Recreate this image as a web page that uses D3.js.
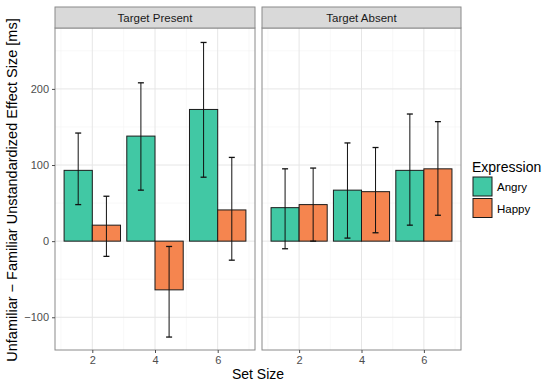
<!DOCTYPE html>
<html lang="en">
<head>
<meta charset="utf-8">
<title>Effect size by set size</title>
<script src="https://cdn.jsdelivr.net/npm/d3@7"></script>
<style>
  body { margin: 0; background: #fff; }
  text { font-family: "Liberation Sans", Arial, sans-serif; }
</style>
</head>
<body>
<script>
// data
var panels = ["Target Present", "Target Absent"];
var setSizes = [2, 4, 6];
var expressions = ["Angry", "Happy"];
var colors = ["#41c8a4", "#f5854f"];
// means and error bar limits per set size (2, 4, 6)
var meanPresentAngry = [93, 138, 173];
var meanPresentHappy = [21, -64, 41];
var meanAbsentAngry = [44, 67, 93];
var meanAbsentHappy = [48, 65, 95];
var lowPresentAngry = [48, 67, 84];
var highPresentAngry = [142, 208, 261];
var lowPresentHappy = [-20, -126, -25];
var highPresentHappy = [59, -7, 110];
var lowAbsentAngry = [-10, 4, 21];
var highAbsentAngry = [95, 129, 167];
var lowAbsentHappy = [0, 11, 34];
var highAbsentHappy = [96, 123, 157];
var yTicks = [-100, 0, 100, 200];
var yMinor = [-50, 50, 150, 250];
var xMinor = [1, 3, 5, 7];

var rows = [];
function add(panel, expr, means, lows, highs) {
  setSizes.forEach(function(s, i) {
    rows.push({panel: panel, expr: expr, size: s, mean: means[i], lo: lows[i], hi: highs[i]});
  });
}
add(panels[0], "Angry", meanPresentAngry, lowPresentAngry, highPresentAngry);
add(panels[0], "Happy", meanPresentHappy, lowPresentHappy, highPresentHappy);
add(panels[1], "Angry", meanAbsentAngry, lowAbsentAngry, highAbsentAngry);
add(panels[1], "Happy", meanAbsentHappy, lowAbsentHappy, highAbsentHappy);

var w = 550, h = 386;
var svg = d3.select("body").append("svg").attr("width", w).attr("height", h);

var panelTop = 28, panelBottom = 350, stripTop = 7;
var panelX = [[55, 255], [262, 461]];
var barW = 0.9; // in set-size units

var y = d3.scaleLinear().domain([-143, 280]).range([panelBottom, panelTop]);
var color = d3.scaleOrdinal().domain(expressions).range(colors);

panels.forEach(function(p, pi) {
  var x = d3.scaleLinear().domain([0.81, 7.19]).range(panelX[pi]);
  var g = svg.append("g");
  var x0 = panelX[pi][0], x1 = panelX[pi][1];

  g.append("rect").attr("x", x0).attr("y", panelTop).attr("width", x1 - x0)
    .attr("height", panelBottom - panelTop).attr("fill", "#fff");

  // grid
  g.selectAll(".ymin").data(yMinor).enter().append("line")
    .attr("x1", x0).attr("x2", x1).attr("y1", y).attr("y2", y)
    .attr("stroke", "#f3f3f3").attr("stroke-width", 0.6);
  g.selectAll(".xmin").data(xMinor).enter().append("line")
    .attr("x1", x).attr("x2", x).attr("y1", panelTop).attr("y2", panelBottom)
    .attr("stroke", "#f3f3f3").attr("stroke-width", 0.6);
  g.selectAll(".ymaj").data(yTicks).enter().append("line")
    .attr("x1", x0).attr("x2", x1).attr("y1", y).attr("y2", y)
    .attr("stroke", "#e6e6e6").attr("stroke-width", 1);
  g.selectAll(".xmaj").data(setSizes).enter().append("line")
    .attr("x1", x).attr("x2", x).attr("y1", panelTop).attr("y2", panelBottom)
    .attr("stroke", "#e6e6e6").attr("stroke-width", 1);

  var d = rows.filter(function(r) { return r.panel === p; });
  function left(r) { return r.expr === "Angry" ? x(r.size - barW) : x(r.size); }
  function mid(r) { return r.expr === "Angry" ? x(r.size - barW / 2) : x(r.size + barW / 2); }

  g.selectAll(".bar").data(d).enter().append("rect")
    .attr("x", left)
    .attr("y", function(r) { return y(Math.max(0, r.mean)); })
    .attr("width", x(barW) - x(0))
    .attr("height", function(r) { return Math.abs(y(r.mean) - y(0)); })
    .attr("fill", function(r) { return color(r.expr); })
    .attr("stroke", "#1a1a1a").attr("stroke-width", 1);

  var eb = g.selectAll(".err").data(d).enter().append("g");
  eb.append("line").attr("x1", mid).attr("x2", mid)
    .attr("y1", function(r) { return y(r.lo); }).attr("y2", function(r) { return y(r.hi); })
    .attr("stroke", "#111").attr("stroke-width", 1);
  ["lo", "hi"].forEach(function(k) {
    eb.append("line")
      .attr("x1", function(r) { return mid(r) - 3; }).attr("x2", function(r) { return mid(r) + 3; })
      .attr("y1", function(r) { return y(r[k]); }).attr("y2", function(r) { return y(r[k]); })
      .attr("stroke", "#111").attr("stroke-width", 1.3);
  });

  g.append("rect").attr("x", x0).attr("y", panelTop).attr("width", x1 - x0)
    .attr("height", panelBottom - panelTop).attr("fill", "none")
    .attr("stroke", "#8a8a8a").attr("stroke-width", 1);

  // strip
  g.append("rect").attr("x", x0).attr("y", stripTop).attr("width", x1 - x0)
    .attr("height", panelTop - stripTop).attr("fill", "#d9d9d9")
    .attr("stroke", "#8a8a8a").attr("stroke-width", 1);
  g.append("text").attr("x", (x0 + x1) / 2).attr("y", (stripTop + panelTop) / 2 + 4)
    .attr("text-anchor", "middle").attr("font-size", 11.5).attr("fill", "#1a1a1a").text(p);

  // x axis
  var xa = svg.append("g").attr("transform", "translate(0," + panelBottom + ")")
    .call(d3.axisBottom(x).tickValues(setSizes).tickFormat(d3.format("d")).tickSize(3).tickPadding(3));
  xa.select(".domain").remove();
  xa.selectAll("line").attr("stroke", "#4d4d4d");
  xa.selectAll("text").attr("font-size", 11).attr("fill", "#4d4d4d")
    .attr("font-family", "Liberation Sans, Arial, sans-serif");
});

// y axis
var ya = svg.append("g").attr("transform", "translate(" + panelX[0][0] + ",0)")
  .call(d3.axisLeft(y).tickValues(yTicks).tickSize(3).tickPadding(3));
ya.select(".domain").remove();
ya.selectAll("line").attr("stroke", "#4d4d4d");
ya.selectAll("text").attr("font-size", 11).attr("fill", "#4d4d4d")
  .attr("font-family", "Liberation Sans, Arial, sans-serif");

// axis titles
svg.append("text").attr("transform", "translate(17," + ((panelTop + panelBottom) / 2 + 1) + ") rotate(-90)")
  .attr("text-anchor", "middle").attr("font-size", 14.5).attr("fill", "#000")
  .text("Unfamiliar \u2212 Familiar Unstandardized Effect Size [ms]");
svg.append("text").attr("x", (panelX[0][0] + panelX[1][1]) / 2).attr("y", 379)
  .attr("text-anchor", "middle").attr("font-size", 14).attr("fill", "#000").text("Set Size");

// legend
var lg = svg.append("g").attr("transform", "translate(472,0)");
lg.append("text").attr("x", 0).attr("y", 172).attr("font-size", 14).attr("fill", "#000").text("Expression");
var li = lg.selectAll(".key").data(expressions).enter().append("g")
  .attr("transform", function(d, i) { return "translate(0," + (177 + i * 21.5) + ")"; });
li.append("rect").attr("x", 1).attr("y", 0).attr("width", 19).attr("height", 19)
  .attr("fill", function(d) { return color(d); }).attr("stroke", "#1a1a1a").attr("stroke-width", 1);
li.append("text").attr("x", 25).attr("y", 14).attr("font-size", 11.5).attr("fill", "#000").text(function(d) { return d; });
</script>
</body>
</html>
